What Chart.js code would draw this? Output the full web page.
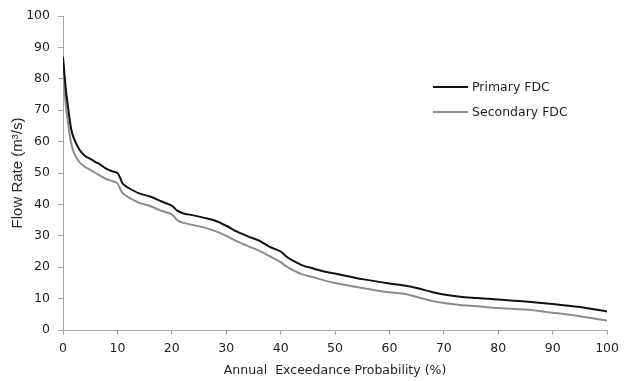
<!DOCTYPE html>
<html>
<head>
<meta charset="utf-8">
<script src="https://cdn.jsdelivr.net/npm/chart.js@4"></script>
<style>
  html, body { margin: 0; padding: 0; background: #fff; }
  #wrap { width: 625px; height: 381px; }
</style>
</head>
<body>
<div id="wrap"><canvas id="c" width="625" height="381"></canvas></div>
<script>
// exceedance probability (%)
const probability = [0, 0.5, 1, 1.5, 2, 3, 4, 5, 6, 7, 8, 9, 10, 10.5, 11, 12, 14, 16, 18, 20,
    21, 22, 24, 26, 28, 30, 32, 34, 36, 38, 40, 41, 42, 44, 46, 48, 50, 55, 60, 63,
    65, 68, 70, 73, 76, 80, 85, 90, 95, 100];
// flow rate (m3/s)
const primaryFlow = [87, 77, 70, 64, 61, 57.5, 55.5, 54.5, 53.5, 52.5, 51.3, 50.6, 50, 48.5, 46.5, 45.3, 43.5, 42.5, 41, 39.6,
    38, 37.2, 36.5, 35.7, 34.8, 33.2, 31.3, 29.8, 28.5, 26.5, 25, 23.5, 22.3, 20.6, 19.6, 18.6, 18, 16.2, 14.8, 14.1,
    13.4, 12, 11.3, 10.6, 10.2, 9.7, 9.1, 8.3, 7.3, 5.9];
const secondaryFlow = [85, 72, 65, 59.5, 56.5, 53.5, 52, 51, 50, 49, 48, 47.5, 46.7, 45, 43.5, 42.3, 40.5, 39.5, 38, 36.8,
    35, 34.2, 33.4, 32.6, 31.5, 30, 28.2, 26.7, 25.3, 23.5, 21.6, 20.3, 19.3, 17.7, 16.8, 15.8, 15, 13.4, 12, 11.5,
    10.5, 9.2, 8.6, 8, 7.6, 7, 6.5, 5.5, 4.4, 3.0];
const seriesNames = ["Primary FDC", "Secondary FDC"];
const seriesColors = ["#111111", "#8c8c8c"];

const FONT = "'DejaVu Sans', sans-serif";
const axisGrey = "#a6a6a6";
const textColor = "#1e1e1e";

function toPoints(xs, ys) {
    return xs.map((x, i) => ({ x: x, y: ys[i] }));
}

// legend drawn inside the plot, to the right
const insideLegend = {
    id: "insideLegend",
    afterDraw(chart) {
        const ctx = chart.ctx;
        const x0 = 433, len = 35, rows = [87, 112];
        ctx.save();
        ctx.font = "12.5px " + FONT;
        ctx.textBaseline = "middle";
        seriesNames.forEach((name, i) => {
            ctx.strokeStyle = seriesColors[i];
            ctx.lineWidth = 2;
            ctx.beginPath();
            ctx.moveTo(x0, rows[i]);
            ctx.lineTo(x0 + len, rows[i]);
            ctx.stroke();
            ctx.fillStyle = textColor;
            ctx.fillText(name, x0 + len + 4, rows[i] + 1);
        });
        ctx.restore();
    }
};

new Chart(document.getElementById("c"), {
    type: "line",
    data: {
        datasets: [
            {
                label: seriesNames[0],
                data: toPoints(probability, primaryFlow),
                borderColor: seriesColors[0],
                borderWidth: 2,
                pointRadius: 0,
                tension: 0.3,
                fill: false
            },
            {
                label: seriesNames[1],
                data: toPoints(probability, secondaryFlow),
                borderColor: seriesColors[1],
                borderWidth: 2,
                pointRadius: 0,
                tension: 0.3,
                fill: false
            }
        ]
    },
    options: {
        responsive: false,
        animation: false,
        layout: { padding: { top: 16, right: 12, left: 0, bottom: 0 } },
        plugins: { legend: { display: false }, tooltip: { enabled: false } },
        scales: {
            x: {
                type: "linear",
                min: 0,
                max: 100,
                ticks: { stepSize: 10, color: textColor, font: { family: FONT, size: 12.5 }, padding: 6, maxRotation: 0 },
                grid: { drawOnChartArea: false, color: axisGrey, tickLength: 5 },
                border: { color: axisGrey, width: 1 },
                title: {
                    display: true,
                    text: "Annual  Exceedance Probability (%)",
                    color: textColor,
                    font: { family: FONT, size: 12.5 },
                    padding: { top: 0, bottom: 3 }
                },
                afterFit(scale) { scale.height = 51; }
            },
            y: {
                min: 0,
                max: 100,
                ticks: { stepSize: 10, color: textColor, font: { family: FONT, size: 12.5 }, padding: 8 },
                grid: { drawOnChartArea: false, color: axisGrey, tickLength: 5 },
                border: { color: axisGrey, width: 1 },
                title: {
                    display: true,
                    text: "Flow Rate (m³/s)",
                    color: "#2a2a2a",
                    font: { family: "'Liberation Sans', Arial, sans-serif", size: 15 },
                    padding: { top: 9, bottom: 0 }
                },
                afterFit(scale) { scale.width = 63; }
            }
        }
    },
    plugins: [insideLegend]
});
</script>
</body>
</html>
